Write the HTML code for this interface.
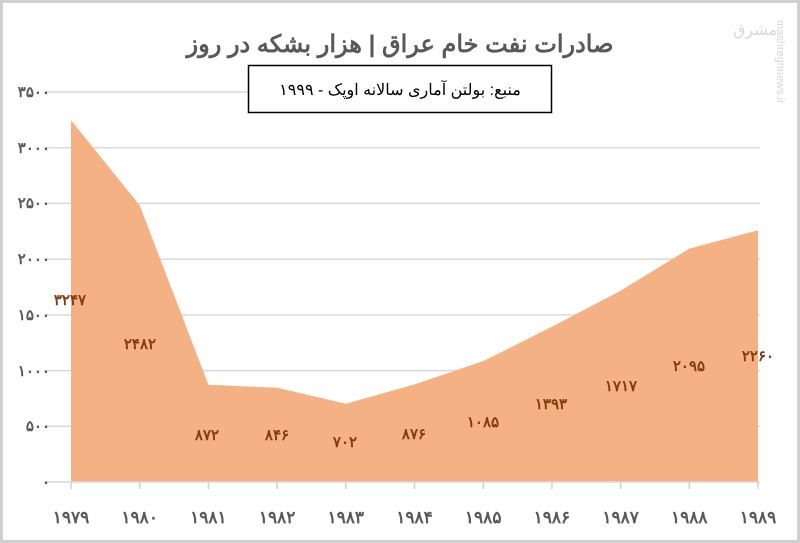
<!DOCTYPE html>
<html><head><meta charset="utf-8"><style>
html,body{margin:0;padding:0;background:#fff;}
svg{display:block;font-family:"Liberation Sans","Noto Sans CJK SC",sans-serif;}
</style></head><body>
<svg width="800" height="543" viewBox="0 0 800 543" xmlns="http://www.w3.org/2000/svg">
<rect x="1.5" y="1.5" width="797" height="540" fill="#fff" stroke="#d0d0d0" stroke-width="3"/>
<g stroke="#d9d9d9" stroke-width="1.5">
<line x1="45" y1="92" x2="495" y2="92"/>
<line x1="45" y1="147.7" x2="760" y2="147.7"/>
<line x1="45" y1="203.4" x2="760" y2="203.4"/>
<line x1="45" y1="259.1" x2="760" y2="259.1"/>
<line x1="45" y1="314.9" x2="760" y2="314.9"/>
<line x1="45" y1="370.6" x2="760" y2="370.6"/>
<line x1="45" y1="426.3" x2="760" y2="426.3"/>
</g>
<polygon fill="#F4B183" points="71,482 71,120.2 139.7,205.4 208.4,384.8 277.1,387.7 345.8,403.8 414.5,384.4 483.2,361.1 551.9,326.8 620.6,290.7 689.3,248.6 758,230.2 758,482"/>
<line x1="45" y1="482" x2="760" y2="482" stroke="#d9d9d9" stroke-width="1.5"/>
<g stroke="#d0d0d0" stroke-width="1.5">
<line x1="71" y1="482" x2="71" y2="489"/><line x1="139.7" y1="482" x2="139.7" y2="489"/><line x1="208.4" y1="482" x2="208.4" y2="489"/><line x1="277.1" y1="482" x2="277.1" y2="489"/><line x1="345.8" y1="482" x2="345.8" y2="489"/><line x1="414.5" y1="482" x2="414.5" y2="489"/><line x1="483.2" y1="482" x2="483.2" y2="489"/><line x1="551.9" y1="482" x2="551.9" y2="489"/><line x1="620.6" y1="482" x2="620.6" y2="489"/><line x1="689.3" y1="482" x2="689.3" y2="489"/><line x1="758" y1="482" x2="758" y2="489"/>
</g>
<text x="400" y="52" text-anchor="middle" font-size="24" font-weight="bold" fill="#595959">صادرات نفت خام عراق | هزار بشکه در روز</text>
<rect x="248" y="65" width="102" height="47" fill="none"/>
<rect x="248.5" y="65.5" width="303" height="47" fill="#fff" stroke="#000" stroke-width="1.5"/>
<text x="400" y="95" text-anchor="middle" font-size="16" fill="#000">منبع: بولتن آماری سالانه اوپک - ۱۹۹۹</text>
<g font-size="15" fill="#595959" text-anchor="end" font-weight="bold">
<text x="50" y="97">۳۵۰۰</text><text x="50" y="153">۳۰۰۰</text><text x="50" y="208">۲۵۰۰</text><text x="50" y="264">۲۰۰۰</text><text x="50" y="320">۱۵۰۰</text><text x="50" y="376">۱۰۰۰</text><text x="50" y="431">۵۰۰</text><text x="50" y="487">۰</text>
</g>
<g font-size="17" fill="#595959" text-anchor="middle" font-weight="bold">
<text x="71" y="523">۱۹۷۹</text><text x="139.7" y="523">۱۹۸۰</text><text x="208.4" y="523">۱۹۸۱</text><text x="277.1" y="523">۱۹۸۲</text><text x="345.8" y="523">۱۹۸۳</text><text x="414.5" y="523">۱۹۸۴</text><text x="483.2" y="523">۱۹۸۵</text><text x="551.9" y="523">۱۹۸۶</text><text x="620.6" y="523">۱۹۸۷</text><text x="689.3" y="523">۱۹۸۸</text><text x="758" y="523">۱۹۸۹</text>
</g>
<g font-size="15" fill="#843C0C" text-anchor="middle" font-weight="bold">
<text x="70" y="305">۳۲۴۷</text><text x="140" y="349">۲۴۸۲</text><text x="207" y="440">۸۷۲</text><text x="277" y="440">۸۴۶</text><text x="345" y="447">۷۰۲</text><text x="414" y="439">۸۷۶</text><text x="483" y="427">۱۰۸۵</text><text x="551" y="409">۱۳۹۳</text><text x="621" y="391">۱۷۱۷</text><text x="689" y="371">۲۰۹۵</text><text x="758" y="361">۲۲۶۰</text>
</g>
<text transform="translate(777,20) rotate(90)" font-size="11" fill="#d8d8d8">mashreghnews.ir</text>
<text x="755" y="35" text-anchor="middle" font-size="16" fill="#d8d8d8">مشرق</text>
</svg>
</body></html>
